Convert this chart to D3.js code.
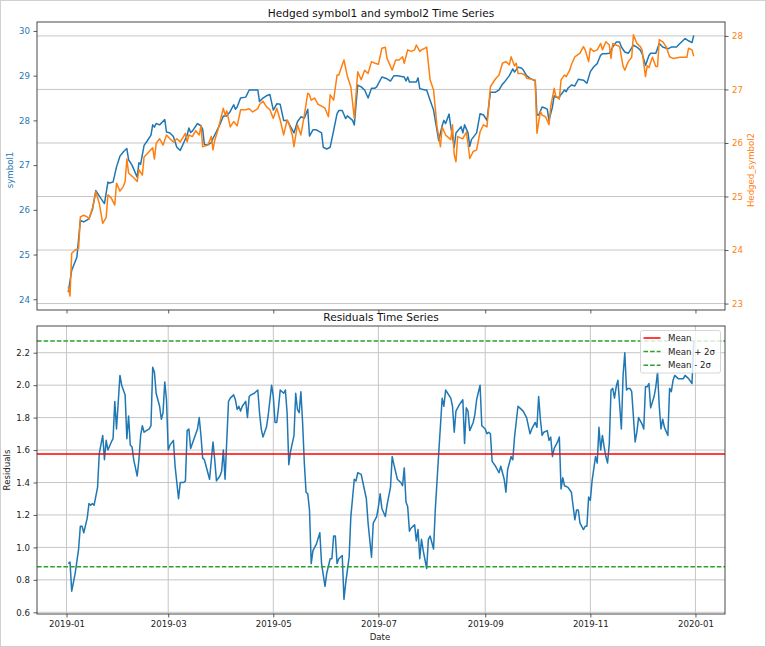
<!DOCTYPE html>
<html><head><meta charset="utf-8">
<script src="https://cdn.jsdelivr.net/npm/d3@7"></script>
<style>body{margin:0;background:#fff}svg{display:block;font-family:"DejaVu Sans",sans-serif}</style>
</head><body><svg id="c" width="766" height="647"></svg>
<script>
const YEAR = 2019;
const s1Dates = ["01-02","01-04","01-07","01-09","01-11","01-14","01-16","01-18","01-21","01-23","01-25","01-26","01-28","01-30","02-01","02-03","02-05","02-06","02-08","02-11","02-12","02-13","02-15","02-17","02-19","02-20","02-21","02-22","02-24","02-27","02-28","03-02","03-04","03-06","03-08","03-10","03-12","03-13","03-14","03-15","03-18","03-20","03-21","03-22","03-24","03-26","03-27","03-29","03-31","04-02","04-04","04-06","04-08","04-09","04-10","04-12","04-15","04-17","04-19","04-22","04-23","04-25","04-27","04-29","05-01","05-03","05-05","05-07","05-09","05-11","05-13","05-15","05-17","05-19","05-21","05-22","05-24","05-26","05-29","05-30","06-01","06-03","06-05","06-07","06-08","06-10","06-12","06-13","06-16","06-17","06-19","06-21","06-23","06-25","06-27","06-29","06-30","07-03","07-06","07-08","07-10","07-12","07-16","07-17","07-18","07-19","07-23","07-24","07-25","07-28","07-29","07-31","08-02","08-05","08-07","08-08","08-09","08-11","08-12","08-14","08-15","08-18","08-19","08-20","08-22","08-23","08-24","08-26","08-27","08-29","08-31","09-02","09-04","09-07","09-09","09-11","09-12","09-15","09-17","09-18","09-20","09-22","09-23","09-25","09-27","09-29","09-30","10-01","10-02","10-04","10-06","10-07","10-08","10-10","10-11","10-12","10-14","10-15","10-17","10-18","10-19","10-21","10-23","10-25","10-28","10-30","11-01","11-03","11-05","11-07","11-08","11-10","11-12","11-14","11-16","11-18","11-19","11-21","11-23","11-26","11-28","11-30","12-01","12-03","12-05","12-06","12-09","12-11","12-13","12-16","12-18","12-21","12-23","12-26","12-28","12-30","12-31"];
const s1Values = [24.16,24.65,24.94,25.76,25.73,25.80,26.00,26.43,26.25,26.14,26.62,26.60,26.62,26.96,27.20,27.30,27.37,27.12,27.00,26.73,27.05,27.02,27.44,27.55,27.67,27.90,27.85,27.93,27.90,28.02,27.74,27.72,27.64,27.40,27.33,27.50,27.67,27.83,27.73,27.76,27.93,27.88,27.80,27.46,27.45,27.50,27.60,27.75,27.91,28.10,28.10,28.20,28.35,28.25,28.30,28.50,28.52,28.68,28.68,28.68,28.42,28.50,28.55,28.58,28.23,28.37,28.36,28.00,28.00,27.86,27.72,27.97,28.08,28.05,28.25,27.65,27.79,27.79,27.72,27.40,27.36,27.40,27.77,28.15,28.22,28.22,28.04,28.10,28.00,27.90,28.79,28.75,28.68,28.50,28.72,28.72,28.75,28.97,28.93,28.88,29.00,29.00,28.97,28.88,28.97,28.86,28.86,28.95,28.71,28.68,28.68,28.45,28.23,27.55,27.88,28.00,27.93,28.14,27.86,27.40,27.72,27.86,27.72,27.90,27.72,27.42,27.57,27.67,27.72,28.15,28.12,28.00,28.63,28.63,28.68,28.81,28.85,29.00,29.15,29.08,29.19,29.17,29.13,29.00,28.94,28.90,28.90,28.12,28.12,28.30,28.27,28.25,28.00,28.30,28.55,28.52,28.52,28.58,28.68,28.64,28.72,28.79,28.77,28.92,28.90,28.83,29.09,29.20,29.27,29.46,29.49,29.49,29.50,29.64,29.75,29.75,29.64,29.53,29.50,29.68,29.64,29.57,29.50,29.23,29.45,29.50,29.50,29.72,29.64,29.60,29.64,29.64,29.72,29.83,29.78,29.74,29.90];

const s2Dates = ["01-02","01-03","01-04","01-06","01-08","01-09","01-11","01-13","01-14","01-16","01-18","01-20","01-22","01-24","01-25","01-27","01-29","01-30","02-01","02-03","02-04","02-05","02-06","02-09","02-11","02-12","02-14","02-15","02-18","02-20","02-21","02-22","02-24","02-26","02-28","03-02","03-04","03-06","03-08","03-11","03-12","03-13","03-15","03-17","03-19","03-20","03-21","03-24","03-26","03-27","03-28","03-30","04-01","04-02","04-03","04-04","04-06","04-08","04-10","04-11","04-12","04-15","04-17","04-19","04-22","04-23","04-25","04-27","04-29","05-01","05-03","05-05","05-07","05-09","05-10","05-12","05-13","05-15","05-17","05-19","05-21","05-22","05-23","05-25","05-27","05-29","05-31","06-02","06-03","06-05","06-07","06-08","06-11","06-13","06-15","06-17","06-19","06-21","06-23","06-25","06-27","06-29","07-01","07-03","07-05","07-06","07-09","07-11","07-13","07-15","07-16","07-18","07-20","07-22","07-23","07-25","07-26","07-28","07-29","07-31","08-02","08-04","08-06","08-07","08-09","08-11","08-12","08-13","08-14","08-15","08-16","08-18","08-19","08-21","08-22","08-23","08-25","08-27","08-29","08-31","09-02","09-04","09-07","09-09","09-11","09-13","09-15","09-16","09-18","09-19","09-20","09-22","09-24","09-25","09-28","09-30","10-01","10-03","10-04","10-06","10-08","10-09","10-11","10-12","10-14","10-15","10-17","10-18","10-20","10-21","10-23","10-26","10-28","10-29","10-31","11-01","11-03","11-05","11-07","11-08","11-10","11-12","11-13","11-14","11-16","11-18","11-20","11-21","11-23","11-25","11-26","11-28","11-30","12-01","12-03","12-04","12-05","12-07","12-09","12-10","12-11","12-13","12-15","12-17","12-19","12-23","12-27","12-28","12-30","12-31"];
const s2Values = [23.31,23.14,23.94,24.00,24.03,24.62,24.65,24.62,24.58,24.78,25.09,24.87,24.50,24.61,25.03,24.97,24.84,25.25,25.10,25.19,25.28,25.70,25.44,25.35,25.28,25.50,25.40,25.74,25.84,25.91,25.70,25.99,26.08,25.96,26.15,26.08,26.02,26.08,26.02,26.18,26.02,26.15,26.12,26.23,26.15,26.32,25.93,25.96,26.12,25.87,26.05,26.26,26.52,26.65,26.52,26.60,26.30,26.40,26.32,26.46,26.62,26.62,26.64,26.58,26.64,26.72,26.78,26.68,26.62,26.46,26.65,26.43,26.15,26.43,26.37,26.15,25.93,26.34,26.15,26.52,26.93,26.90,26.80,26.84,26.72,26.69,26.65,26.49,26.90,26.80,27.27,27.27,27.55,27.24,27.05,26.46,27.33,27.18,27.36,27.30,27.52,27.49,27.47,27.77,27.79,27.58,27.36,27.55,27.55,27.61,27.49,27.74,27.71,27.74,27.83,27.71,27.74,27.77,27.79,27.18,26.99,26.31,25.93,26.30,26.15,26.09,26.06,26.34,25.78,25.65,26.12,26.09,26.08,26.20,25.99,25.71,25.84,25.87,26.21,26.34,26.30,27.05,27.20,27.27,27.49,27.52,27.46,27.61,27.44,27.49,27.30,27.30,27.27,27.21,27.19,27.17,26.18,26.59,26.52,26.49,26.34,26.68,27.02,26.87,26.82,27.18,27.27,27.24,27.36,27.46,27.61,27.68,27.80,27.74,27.52,27.77,27.71,27.74,27.86,27.74,27.89,27.83,27.58,27.86,27.83,27.80,27.43,27.36,27.52,27.60,28.02,27.86,27.80,27.74,27.24,27.44,27.41,27.60,27.43,27.43,27.93,27.89,27.80,27.61,27.58,27.60,27.60,27.77,27.74,27.62];

const resDates = ["01-02","01-03","01-04","01-06","01-08","01-09","01-10","01-11","01-13","01-14","01-15","01-16","01-17","01-19","01-20","01-22","01-23","01-24","01-25","01-27","01-28","01-29","01-30","02-01","02-02","02-04","02-05","02-06","02-07","02-08","02-09","02-11","02-12","02-13","02-14","02-15","02-18","02-19","02-20","02-21","02-22","02-24","02-25","02-26","02-27","02-28","03-01","03-02","03-04","03-05","03-07","03-08","03-10","03-11","03-12","03-13","03-14","03-16","03-18","03-19","03-20","03-21","03-22","03-24","03-25","03-27","03-28","03-29","03-31","04-01","04-02","04-03","04-05","04-06","04-08","04-09","04-10","04-11","04-12","04-13","04-15","04-16","04-17","04-18","04-20","04-22","04-23","04-24","04-25","04-27","04-28","04-30","05-01","05-02","05-03","05-04","05-05","05-07","05-08","05-09","05-10","05-11","05-13","05-14","05-15","05-16","05-17","05-18","05-19","05-20","05-21","05-22","05-23","05-24","05-26","05-28","05-29","05-31","06-01","06-03","06-04","06-05","06-06","06-07","06-08","06-10","06-11","06-12","06-14","06-15","06-17","06-18","06-19","06-21","06-22","06-24","06-25","06-27","06-28","06-30","07-01","07-02","07-03","07-05","07-06","07-08","07-09","07-10","07-12","07-14","07-15","07-16","07-17","07-18","07-19","07-20","07-22","07-23","07-24","07-25","07-26","07-27","07-29","07-30","07-31","08-02","08-03","08-05","08-07","08-08","08-09","08-12","08-13","08-14","08-15","08-17","08-19","08-20","08-21","08-22","08-23","08-25","08-26","08-27","08-29","08-30","09-01","09-02","09-03","09-04","09-05","09-07","09-09","09-10","09-12","09-13","09-14","09-16","09-17","09-18","09-20","09-21","09-23","09-24","09-25","09-27","09-28","09-29","09-30","10-01","10-02","10-03","10-04","10-05","10-07","10-08","10-09","10-10","10-11","10-13","10-14","10-15","10-16","10-17","10-19","10-21","10-23","10-24","10-25","10-26","10-28","10-29","10-30","10-31","11-01","11-02","11-04","11-05","11-06","11-07","11-08","11-09","11-10","11-11","11-12","11-13","11-14","11-15","11-16","11-17","11-19","11-20","11-21","11-22","11-23","11-24","11-25","11-27","11-28","11-29","11-30","12-01","12-02","12-03","12-04","12-05","12-06","12-08","12-09","12-10","12-11","12-12","12-13","12-14","12-16","12-17","12-18","12-19","12-20","12-22","12-24","12-25","12-26","12-28","12-30","12-31"];
const resValues = [0.90,0.91,0.73,0.84,0.99,1.13,1.13,1.09,1.18,1.27,1.26,1.27,1.26,1.37,1.58,1.69,1.54,1.66,1.60,1.65,1.67,1.90,1.73,2.06,2.00,1.94,1.67,1.81,1.63,1.62,1.54,1.44,1.54,1.69,1.75,1.71,1.73,1.75,2.11,2.08,1.95,1.87,1.79,1.83,2.02,1.91,1.60,1.63,1.66,1.50,1.30,1.40,1.40,1.41,1.72,1.73,1.61,1.67,1.73,1.80,1.69,1.55,1.54,1.46,1.42,1.65,1.54,1.41,1.44,1.47,1.60,1.42,1.90,1.92,1.94,1.91,1.85,1.87,1.84,1.87,1.90,1.80,1.93,1.94,1.95,1.97,1.83,1.73,1.68,1.74,1.81,2.00,1.93,1.77,1.77,1.86,1.97,1.95,1.97,1.83,1.51,1.59,1.69,1.95,1.85,1.83,1.96,1.77,1.52,1.34,1.33,1.23,0.90,0.98,1.02,1.09,0.90,0.76,0.84,0.93,0.93,1.07,1.07,0.90,0.93,0.95,0.68,0.78,0.94,1.19,1.42,1.41,1.46,1.45,1.40,1.30,1.15,0.94,1.15,1.19,1.25,1.33,1.24,1.19,1.26,1.37,1.56,1.51,1.42,1.40,1.38,1.49,1.28,1.25,1.10,1.12,1.14,1.04,1.11,0.93,1.05,0.98,0.87,1.05,1.07,0.99,1.23,1.58,1.92,1.87,1.97,1.92,1.87,1.71,1.84,1.88,1.91,1.64,1.86,1.84,1.72,1.77,1.82,1.91,2.00,1.75,1.73,1.70,1.71,1.70,1.53,1.50,1.46,1.50,1.42,1.34,1.48,1.56,1.54,1.68,1.87,1.86,1.84,1.82,1.80,1.70,1.73,1.75,1.77,1.74,1.93,1.79,1.69,1.71,1.72,1.66,1.68,1.56,1.61,1.65,1.68,1.36,1.43,1.38,1.37,1.34,1.17,1.23,1.23,1.15,1.11,1.13,1.13,1.31,1.29,1.41,1.56,1.52,1.74,1.60,1.69,1.62,1.56,1.52,1.64,1.97,1.98,1.92,1.99,2.03,1.73,2.06,2.20,1.97,1.98,1.98,1.96,1.65,1.71,1.80,1.78,1.76,1.73,1.99,1.99,2.01,1.86,1.93,1.99,2.08,1.87,1.73,1.79,1.74,1.69,1.98,1.96,2.03,2.06,2.04,2.04,2.04,2.06,2.04,2.01,2.27];

const resMean = 1.576;
const resStd = 0.348;
const xTickDates = ["2019-01-01","2019-03-01","2019-05-01","2019-07-01","2019-09-01","2019-11-01","2020-01-01"];
const leftTicks = [24,25,26,27,28,29,30];
const rightTicks = [23,24,25,26,27,28];
const resTicks = [0.6,0.8,1.0,1.2,1.4,1.6,1.8,2.0,2.2];
const legendLabels = ["Mean","Mean + 2σ","Mean - 2σ"];

const BLUE = "#1f77b4", ORANGE = "#ff7f0e", RED = "#ff0000", GREEN = "#2ca02c";
const parse = s => d3.timeParse("%Y-%m-%d")(YEAR + "-" + s);
const parseFull = d3.timeParse("%Y-%m-%d");
const svg = d3.select("#c");
const L = 37, R = 725;
const T1 = 22, B1 = 310, T2 = 326, B2 = 614;

svg.append("rect").attr("x",0.5).attr("y",0.5).attr("width",765).attr("height",646)
  .attr("fill","#fff").attr("stroke","#d0d0d0");

const s1 = s1Dates.map((d,i)=>({d:parse(d), v:s1Values[i]}));
const s2 = s2Dates.map((d,i)=>({d:parse(d), v:s2Values[i]}));
const rs = resDates.map((d,i)=>({d:parse(d), v:resValues[i]}));
const all = [...s1, ...s2, ...rs].map(p=>p.d);
const [d0, d1] = d3.extent(all);
const pad = (d1 - d0) * 0.05;
const x = d3.scaleTime().domain([new Date(+d0 - pad), new Date(+d1 + pad)]).range([L, R]);
const xt = xTickDates.map(parseFull);

const yL = d3.scaleLinear().domain([23.76, 30.20]).range([B1, T1]);
const yR = d3.scaleLinear().domain([22.88, 28.26]).range([B1, T1]);
const yRes = d3.scaleLinear().domain([0.5895, 2.3646]).range([B2, T2]);

const gridColor = "#c6c6c6";
svg.append("g").selectAll("line").data(rightTicks).join("line")
  .attr("x1",L).attr("x2",R).attr("y1",d=>yR(d)).attr("y2",d=>yR(d))
  .attr("stroke",gridColor).attr("stroke-width",1);
svg.append("g").selectAll("line").data(resTicks).join("line")
  .attr("x1",L).attr("x2",R).attr("y1",d=>yRes(d)).attr("y2",d=>yRes(d))
  .attr("stroke",gridColor).attr("stroke-width",1);
svg.append("g").selectAll("line").data(xt).join("line")
  .attr("x1",d=>x(d)).attr("x2",d=>x(d)).attr("y1",T2).attr("y2",B2)
  .attr("stroke",gridColor).attr("stroke-width",1);

function line(yS){ return d3.line().x(p=>x(p.d)).y(p=>yS(p.v)); }
svg.append("path").datum(s1).attr("d",line(yL)).attr("fill","none").attr("stroke",BLUE).attr("stroke-width",1.5).attr("stroke-linejoin","round");
svg.append("path").datum(s2).attr("d",line(yR)).attr("fill","none").attr("stroke",ORANGE).attr("stroke-width",1.5).attr("stroke-linejoin","round");

const refs = [{v:resMean, c:RED, dash:null},{v:resMean+2*resStd, c:GREEN, dash:"4.6,2"},{v:resMean-2*resStd, c:GREEN, dash:"4.6,2"}];
svg.append("path").datum(rs).attr("d",line(yRes)).attr("fill","none").attr("stroke",BLUE).attr("stroke-width",1.5).attr("stroke-linejoin","round");
svg.append("g").selectAll("line").data(refs).join("line")
  .attr("x1",L).attr("x2",R).attr("y1",d=>yRes(d.v)).attr("y2",d=>yRes(d.v))
  .attr("stroke",d=>d.c).attr("stroke-width",1.5).attr("stroke-dasharray",d=>d.dash);

[[T1,B1],[T2,B2]].forEach(([t,b])=>{
  svg.append("rect").attr("x",L).attr("y",t).attr("width",R-L).attr("height",b-t)
    .attr("fill","none").attr("stroke","#333").attr("stroke-width",0.9);
});

const FS = 8.6;
function styleAxis(g, color){
  g.select(".domain").remove();
  g.selectAll(".tick line").attr("stroke","#333").attr("stroke-width",0.8);
  g.selectAll(".tick text").attr("fill",color).attr("font-size",FS).attr("font-family","DejaVu Sans");
}
styleAxis(svg.append("g").attr("transform",`translate(${L},0)`)
  .call(d3.axisLeft(yL).tickValues(leftTicks).tickSize(3.5).tickPadding(3.5).tickFormat(d3.format("d"))), BLUE);
styleAxis(svg.append("g").attr("transform",`translate(${R},0)`)
  .call(d3.axisRight(yR).tickValues(rightTicks).tickSize(3.5).tickPadding(3.5).tickFormat(d3.format("d"))), ORANGE);
styleAxis(svg.append("g").attr("transform",`translate(0,${B1})`)
  .call(d3.axisBottom(x).tickValues(xt).tickSize(3.5).tickFormat("")), "#222");
styleAxis(svg.append("g").attr("transform",`translate(${L},0)`)
  .call(d3.axisLeft(yRes).tickValues(resTicks).tickSize(3.5).tickPadding(3.5).tickFormat(d3.format(".1f"))), "#222");
styleAxis(svg.append("g").attr("transform",`translate(0,${B2})`)
  .call(d3.axisBottom(x).tickValues(xt).tickSize(3.5).tickPadding(3.5).tickFormat(d3.timeFormat("%Y-%m"))), "#222");

const txt = (x0,y0,s,size,color,rot)=>{
  const t = svg.append("text").attr("x",x0).attr("y",y0).attr("text-anchor","middle")
    .attr("font-size",size).attr("fill",color).text(s);
  if(rot) t.attr("transform",`rotate(-90,${x0},${y0})`);
  return t;
};
txt((L+R)/2, 17, "Hedged symbol1 and symbol2 Time Series", 10.6, "#111");
txt((L+R)/2, 321, "Residuals Time Series", 10.6, "#111");
txt(380, 640, "Date", FS, "#222");
txt(13, (T1+B1)/2+4, "symbol1", FS, BLUE, true);
txt(754, (T1+B1)/2+4, "Hedged_symbol2", FS, ORANGE, true);
txt(10, (T2+B2)/2, "Residuals", FS, "#222", true);

const lg = svg.append("g").attr("transform","translate(640.5,330.5)");
lg.append("rect").attr("width",80).attr("height",42.5).attr("rx",2)
  .attr("fill","#fff").attr("fill-opacity",0.8).attr("stroke","#cccccc").attr("stroke-width",0.8);
refs.forEach((r,i)=>{
  const yy = 7.5 + i*13.6;
  lg.append("line").attr("x1",3).attr("x2",20).attr("y1",yy).attr("y2",yy)
    .attr("stroke",r.c).attr("stroke-width",1.5).attr("stroke-dasharray",r.dash);
  lg.append("text").attr("x",27.5).attr("y",yy+3.1).attr("font-size",FS).attr("fill","#222").text(legendLabels[i]);
});
</script></body></html>
